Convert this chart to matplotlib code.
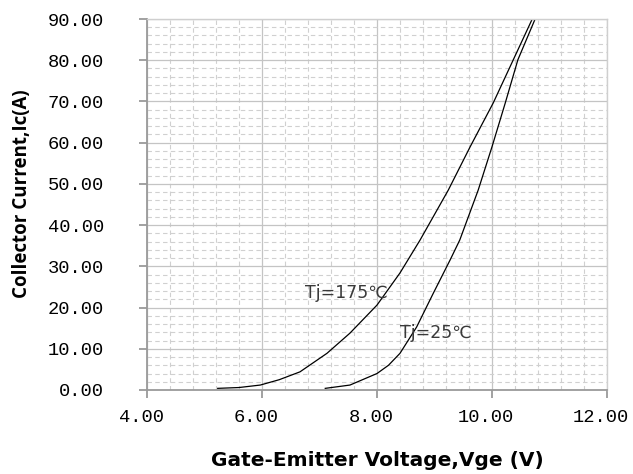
import matplotlib
matplotlib.use("Agg")
import matplotlib.pyplot as plt
from matplotlib.ticker import MultipleLocator, FormatStrFormatter
from matplotlib.transforms import ScaledTranslation

# Transfer characteristic, values
VGE_175 = [5.23, 5.6, 5.97, 6.3, 6.66, 7.13, 7.53, 8.0, 8.40, 8.75, 9.24, 9.62,
           10.02, 10.37, 10.70]
IC_175 = [0.4, 0.6, 1.2, 2.5, 4.4, 8.9, 13.8, 20.6, 28.4, 36.4, 48.5, 59.0,
          69.6, 80.1, 90.0]

VGE_25 = [7.10, 7.53, 8.0, 8.2, 8.40, 8.69, 8.98, 9.27, 9.44, 9.76, 10.0,
          10.23, 10.45, 10.75]
IC_25 = [0.4, 1.2, 4.0, 6.0, 8.9, 15.3, 23.5, 31.5, 36.4, 48.5, 59.0,
         69.6, 80.1, 90.0]

LABEL_175 = "Tj=175℃"
LABEL_25 = "Tj=25℃"

fig = plt.figure(figsize=(6.33, 4.74), dpi=100)
ax = fig.add_axes([147 / 633, 84 / 474, 460 / 633, 371 / 474])

ax.plot(VGE_175, IC_175, color="black", lw=0.9)
ax.plot(VGE_25, IC_25, color="black", lw=0.9)

ax.set_xlim(4, 12)
ax.set_ylim(0, 90)
ax.xaxis.set_major_locator(MultipleLocator(2))
ax.xaxis.set_minor_locator(MultipleLocator(0.4))
ax.yaxis.set_major_locator(MultipleLocator(10))
ax.yaxis.set_minor_locator(MultipleLocator(2))
ax.xaxis.set_major_formatter(FormatStrFormatter("%.2f"))
ax.yaxis.set_major_formatter(FormatStrFormatter("%.2f"))

ax.grid(which="major", color="#c4c4c4", lw=0.9, ls="-")
ax.grid(which="minor", color="#d0d0d0", lw=0.8, ls=(0, (4, 3)))
ax.set_axisbelow(True)

for side in ["left", "bottom"]:
    ax.spines[side].set_color("#9a9a9a")
    ax.spines[side].set_linewidth(1.3)
for side in ["top", "right"]:
    ax.spines[side].set_color("#cfcfcf")
    ax.spines[side].set_linewidth(1.0)

ax.tick_params(which="major", direction="out", length=6, width=1.3,
               color="#9a9a9a", labelsize=13.5)
ax.tick_params(axis="y", which="major", pad=25)
ax.tick_params(axis="x", which="major", pad=8)
ax.tick_params(which="minor", length=0)

# excel draws the x tick labels a little left of the ticks
shift = ScaledTranslation(-6 / 100, 0, fig.dpi_scale_trans)
for lab in ax.get_xticklabels():
    lab.set_family("Liberation Mono")
    lab.set_transform(lab.get_transform() + shift)
for lab in ax.get_yticklabels():
    lab.set_family("Liberation Mono")

ax.set_xlabel("Gate-Emitter Voltage,Vge (V)", fontsize=14.5, fontweight="bold",
              family="DejaVu Sans")
ax.xaxis.set_label_coords(0.501, -0.165)
ax.set_ylabel("Collector Current,Ic(A)", fontsize=13.5, fontweight="bold",
              family="Open Sans")
ax.yaxis.set_label_coords(-0.25, 0.53)

ax.text(6.75, 23.5, LABEL_175, fontsize=12.5, color="#3a3a3a",
        family=["DejaVu Sans", "Noto Sans CJK SC"], va="center")
ax.text(8.40, 13.8, LABEL_25, fontsize=12.5, color="#3a3a3a",
        family=["DejaVu Sans", "Noto Sans CJK SC"], va="center")

fig.savefig("out.png", dpi=100)
